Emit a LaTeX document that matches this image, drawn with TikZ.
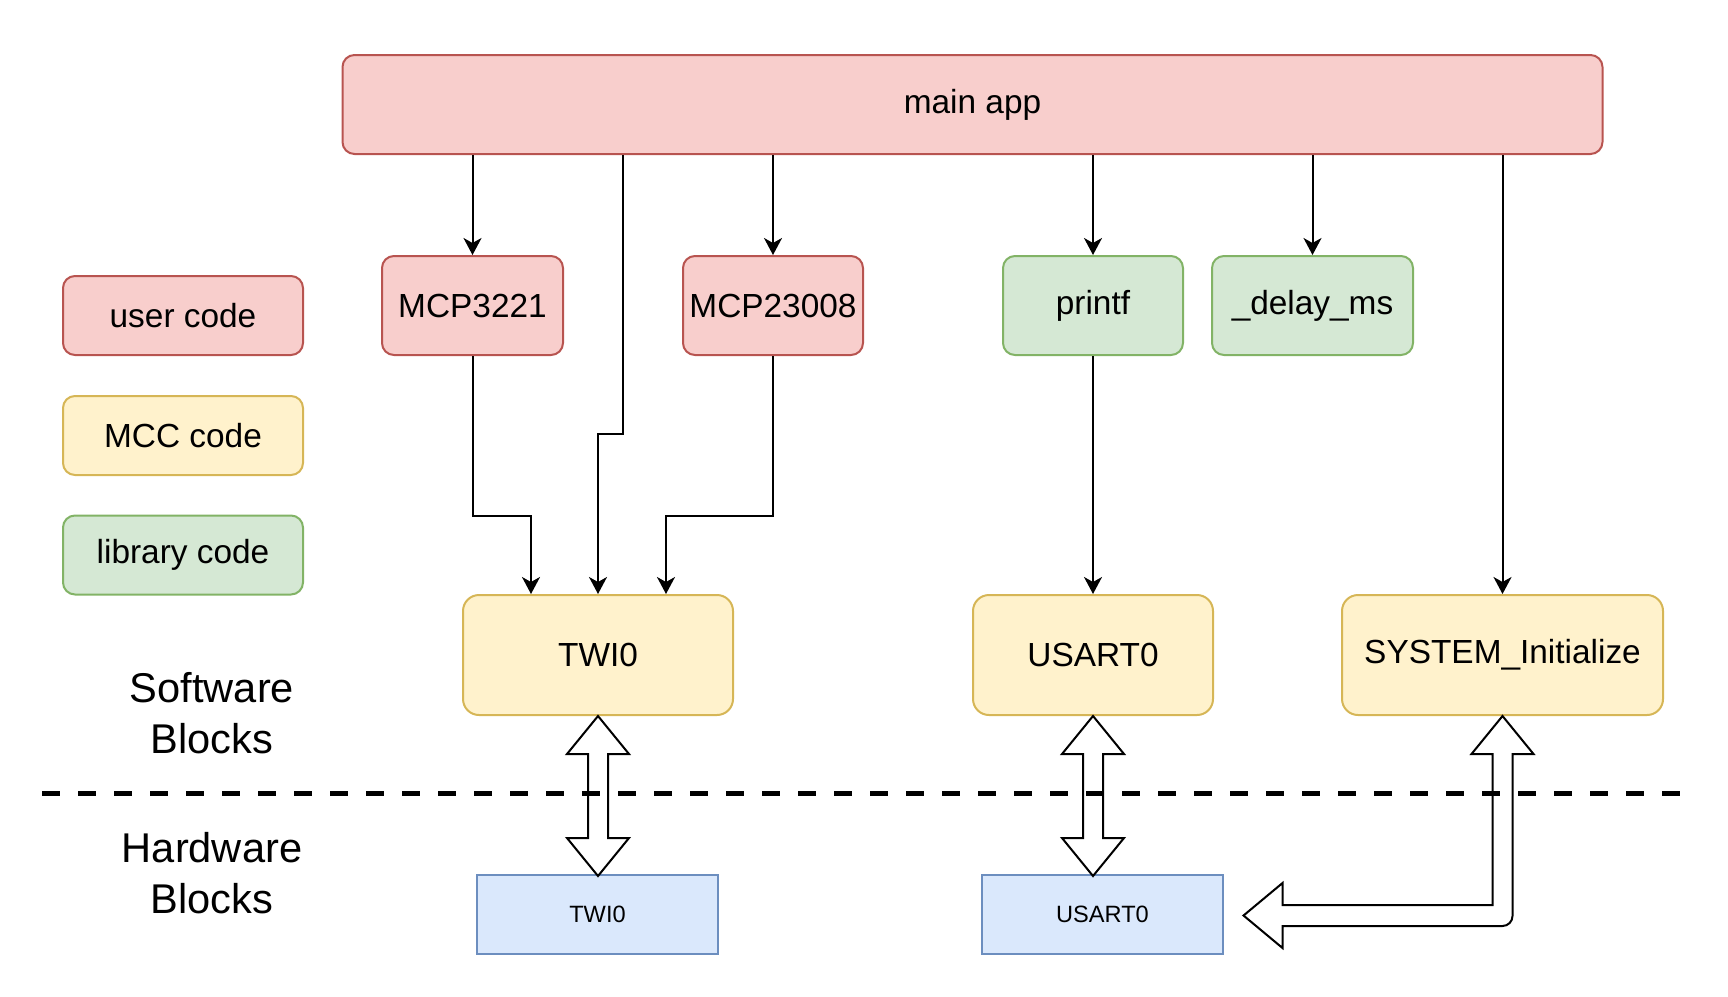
\documentclass[tikz,border=0pt]{standalone}
\usepackage{fontspec}
\setmainfont{Liberation Sans}
\usetikzlibrary{arrows.meta, positioning}

\definecolor{userFill}{HTML}{F8CECC}
\definecolor{userLine}{HTML}{B85450}
\definecolor{mccFill}{HTML}{FFF2CC}
\definecolor{mccLine}{HTML}{D6B656}
\definecolor{libFill}{HTML}{D5E8D4}
\definecolor{libLine}{HTML}{82B366}
\definecolor{hwFill}{HTML}{DAE8FC}
\definecolor{hwLine}{HTML}{6C8EBF}

\newcommand{\BoxFont}{\fontsize{16.7}{20}\selectfont}
\newcommand{\SideFont}{\fontsize{20.8}{25.5}\selectfont}

\tikzset{
  box/.style={draw, rounded corners=6pt, line width=1pt, inner sep=0pt,
    align=center, font=\BoxFont},
  usercode/.style={box, fill=userFill, draw=userLine},
  mcccode/.style={box, fill=mccFill, draw=mccLine, rounded corners=8pt},
  libcode/.style={box, fill=libFill, draw=libLine},
  legendbox/.style={minimum width=120pt, minimum height=39.5pt},
  sw/.style={minimum width=90pt, minimum height=49.5pt},
  hwblock/.style={draw=hwLine, fill=hwFill, line width=1pt,
    font=\fontsize{11.8}{14}\selectfont, minimum width=120.5pt, minimum height=39.5pt},
  conn/.style={line width=1pt, -{Stealth[length=8.5pt,width=9pt,inset=2.5pt]}},
  bigarrow/.style={line width=1pt, line join=miter},
}

\begin{document}
\begin{tikzpicture}[x=0.5pt, y=-0.5pt]
  \useasboundingbox (0,0) rectangle (1728,996);

  % legend
  \node[usercode, legendbox] (leguser) at (183,315.5) {user code};
  \node[mcccode, legendbox, rounded corners=6pt] (legmcc) at (183,435.5) {MCC code};
  \node[libcode, legendbox] (leglib) at (183,555) {library code};

  % software blocks
  \node[usercode, minimum width=630pt, minimum height=49.5pt] (main) at (972.5,104.5) {main app};
  \node[usercode, sw, minimum width=90.5pt] (mcpa) at (472.5,305.5) {MCP3221};
  \node[usercode, sw] (mcpb) at (773,305.5) {MCP23008};
  \node[libcode, sw] (printf) at (1093,305.5) {printf};
  \node[libcode, sw, minimum width=100.5pt] (delay) at (1312.5,305.5) {\_delay\_ms};

  \node[mcccode, minimum width=135pt, minimum height=60pt] (twi) at (598,655) {TWI0};
  \node[mcccode, minimum width=120pt, minimum height=60pt] (usart) at (1093,655) {USART0};
  \node[mcccode, minimum width=160.5pt, minimum height=60pt] (sysinit) at (1502.5,655) {SYSTEM\_Initialize};

  % hardware blocks
  \node[hwblock] (hwtwi) at (597.5,914.5) {TWI0};
  \node[hwblock] (hwusart) at (1102.5,914.5) {USART0};

  \node[align=center, font=\SideFont] (swlabel) at (212,713) {Software\\Blocks};
  \node[align=center, font=\SideFont] (hwlabel) at (212,873) {Hardware\\Blocks};

  % calls
  \draw[conn] (mcpa.north |- main.south) -- (mcpa.north);
  \draw[conn] (mcpb.north |- main.south) -- (mcpb.north);
  \draw[conn] (printf.north |- main.south) -- (printf.north);
  \draw[conn] (delay.north |- main.south) -- (delay.north);
  \draw[conn] (sysinit.north |- main.south) -- (sysinit.north);

  \coordinate (jog) at (623,434);
  \draw[conn] (jog |- main.south) -- (jog) -| (twi.north);
  \draw[conn] (mcpa.south) -- ++(0,160) -| ([xshift=-33.5pt]twi.north);
  \draw[conn] (mcpb.south) -- ++(0,160) -| ([xshift=34pt]twi.north);
  \draw[conn] (printf.south) -- (usart.north);

  % divider
  \draw[line width=2.5pt, dash pattern=on 9pt off 9pt] (42,793) -- (1681,793);

  % software <-> hardware
  \foreach \blk in {twi, usart}{
    \draw[bigarrow] (\blk.south) -- ++(31,38) -- ++(-21,0) -- ++(0,84) -- ++(21,0)
      -- ++(-31,38) -- ++(-31,-38) -- ++(21,0) -- ++(0,-84) -- ++(-21,0) -- cycle;
  }
  \draw[bigarrow] (sysinit.south) -- ++(31,38) -- ++(-21,0) -- ++(0,162)
    arc[start angle=0, end angle=90, radius=10] -- ++(-220,0) -- ++(0,22)
    -- ++(-39,-32.5) -- ++(39,-32.5) -- ++(0,22) -- ++(210,0) -- ++(0,-151)
    -- ++(-21,0) -- cycle;
\end{tikzpicture}
\end{document}
